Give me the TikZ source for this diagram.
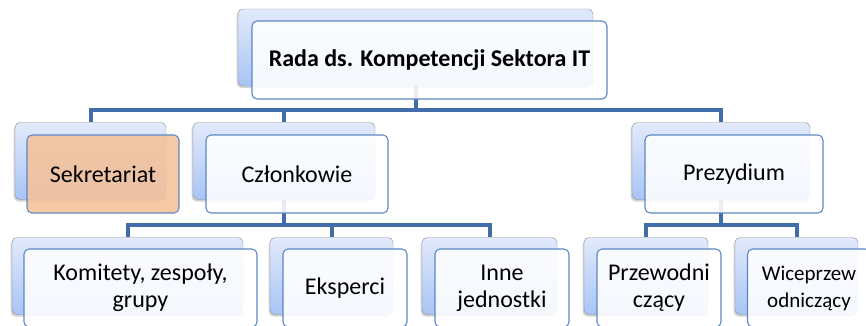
\documentclass[tikz,border=0pt]{standalone}
\usepackage{fontspec}
\setmainfont{Carlito}
\usetikzlibrary{shadows,positioning}

\definecolor{linkblue}{RGB}{66,108,170}
\definecolor{frameblue}{RGB}{92,136,196}
\definecolor{boxgrey}{RGB}{140,140,140}
\definecolor{shadetop}{RGB}{226,234,251}
\definecolor{shadebot}{RGB}{168,196,245}
\definecolor{peach}{RGB}{245,194,154}

\tikzset{
  backbox/.style={draw=boxgrey, rounded corners=5pt, top color=shadetop, bottom color=shadebot,
    drop shadow={shadow xshift=-1.5pt, shadow yshift=-2pt, opacity=.35}, minimum height=77pt, inner sep=0pt},
  frontbox/.style={draw=frameblue, line width=1.1pt, rounded corners=5pt, fill=white, fill opacity=.88,
    text opacity=1, minimum height=78pt, inner sep=0pt, align=center, font=\fontsize{24}{27}\selectfont},
  link/.style={draw=linkblue, line width=4pt}
}

\begin{document}
\begin{tikzpicture}[x=1pt, y=-1pt]
  \clip (0,0) rectangle (866,325);

  % back boxes
  \node[backbox, minimum width=355pt] (rada-b) at (415.5,47.5) {};
  \node[backbox, minimum width=151pt] (sekr-b) at (90.5,161) {};
  \node[backbox, minimum width=182pt] (czl-b) at (284,161) {};
  \node[backbox, minimum width=178pt] (prez-b) at (721,161) {};
  \node[backbox, minimum width=231pt] (kom-b) at (127.5,276) {};
  \node[backbox, minimum width=123pt] (eksp-b) at (331.5,276) {};
  \node[backbox, minimum width=135pt] (inne-b) at (489.5,276) {};
  \node[backbox, minimum width=124pt] (przew-b) at (646,276) {};
  \node[backbox, minimum width=123pt] (wice-b) at (796.5,276) {};

  % connectors
  \draw[link] (rada-b.south) -- ++(0,24) -| (sekr-b.north);
  \draw[link] (rada-b.south) -- ++(0,24) -| (czl-b.north);
  \draw[link] (rada-b.south) -- ++(0,24) -| (prez-b.north);
  \draw[link] (czl-b.south) -- ++(0,25) -| (kom-b.north);
  \draw[link] (czl-b.south) -- ++(0,25) -| (eksp-b.north);
  \draw[link] (czl-b.south) -- ++(0,25) -| (inne-b.north);
  \draw[link] (prez-b.south) -- ++(0,25) -| (przew-b.north);
  \draw[link] (prez-b.south) -- ++(0,25) -| (wice-b.north);

  % front boxes
  \node[frontbox, minimum width=355pt, font=\fontsize{24}{27}\selectfont\bfseries] (rada) at (429.5,60) {Rada ds. Kompetencji Sektora IT};
  \node[frontbox, minimum width=152pt, fill=peach] (sekr) at (103,174) {Sekretariat};
  \node[frontbox, minimum width=182pt] (czl) at (297,174) {Członkowie};
  \node[frontbox, minimum width=178pt] (prez) at (734,174) {Prezydium};
  \node[frontbox, minimum width=233pt] (kom) at (140.5,288) {Komitety, zespoły,\\grupy};
  \node[frontbox, minimum width=124pt] (eksp) at (345,288) {Eksperci};
  \node[frontbox, minimum width=134pt] (inne) at (502,288) {Inne\\jednostki};
  \node[frontbox, minimum width=124pt] (przew) at (659,288) {Przewodni\\czący};
  \node[frontbox, minimum width=123pt, font=\fontsize{21}{27}\selectfont] (wice) at (809,288) {Wiceprzew\\odniczący};
\end{tikzpicture}
\end{document}
